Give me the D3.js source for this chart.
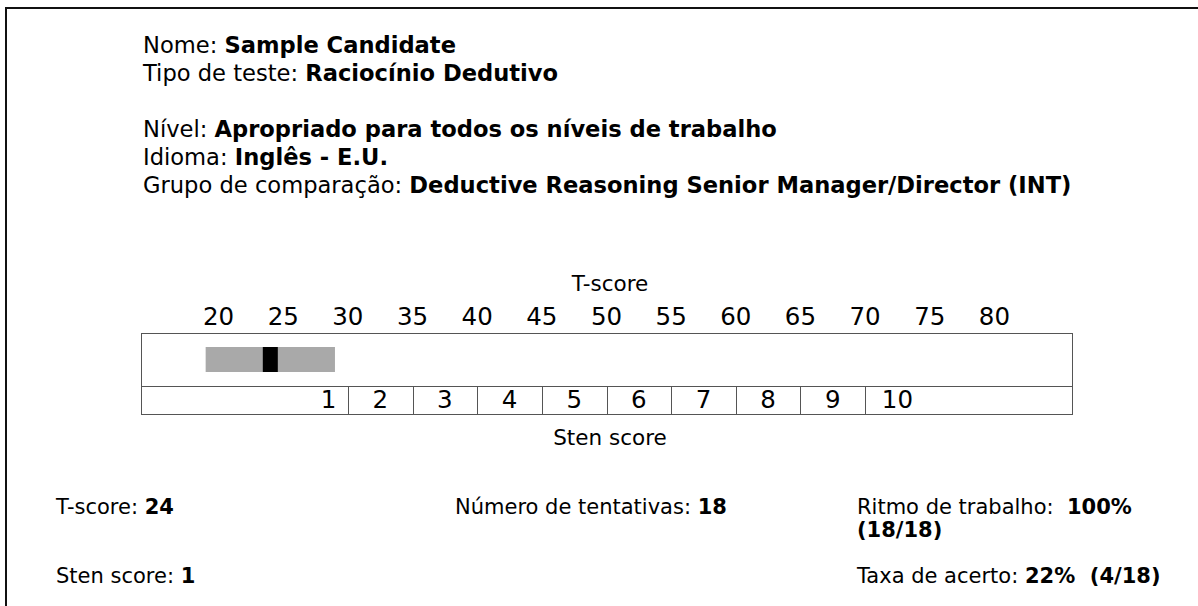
<!DOCTYPE html>
<html>
<head>
<meta charset="utf-8">
<script src="https://cdn.jsdelivr.net/npm/d3@7"></script>
<style>
  html, body { margin: 0; padding: 0; background: #fff; }
  svg { display: block; font-family: "DejaVu Sans", Verdana, sans-serif; }
</style>
</head>
<body>
<svg id="chart" width="1198" height="606"></svg>
<script>
// ---------- data ----------
const headerLabels = ["Nome: ", "Tipo de teste: ", "Nível: ", "Idioma: ", "Grupo de comparação: "];
const headerValues = ["Sample Candidate", "Raciocínio Dedutivo", "Apropriado para todos os níveis de trabalho", "Inglês - E.U.", "Deductive Reasoning Senior Manager/Director (INT)"];
const tDomain = [14, 86];
const tTicks = [20, 25, 30, 35, 40, 45, 50, 55, 60, 65, 70, 75, 80];
const stenBounds = [30, 35, 40, 45, 50, 55, 60, 65, 70];
const stenLabels = [1, 2, 3, 4, 5, 6, 7, 8, 9, 10];
const stenLabelPos = [28.5, 32.5, 37.5, 42.5, 47.5, 52.5, 57.5, 62.5, 67.5, 72.5];
const tScore = 24;
const tBand = [19, 29];
const summaryLabels = ["T-score: ", "Número de tentativas: ", "Ritmo de trabalho:  ", "Sten score: ", "Taxa de acerto: "];
const summaryValues = ["24", "18", "100%", "1", "22%  (4/18)"];
const summaryExtra = "(18/18)";

// ---------- layout ----------
const svg = d3.select("#chart");
const x = d3.scaleLinear().domain(tDomain).range([141, 1072]);
const boxTop = 333, midY = 386, boxBottom = 414;

// page border (top and left)
svg.append("line").attr("x1", 5).attr("x2", 1198).attr("y1", 8).attr("y2", 8)
  .attr("stroke", "#111").attr("stroke-width", 2);
svg.append("line").attr("x1", 6).attr("x2", 6).attr("y1", 7).attr("y2", 606)
  .attr("stroke", "#111").attr("stroke-width", 2);

// header
const headerY = [53, 81, 137, 165, 193];
headerLabels.forEach((lab, i) => {
  const t = svg.append("text").attr("x", 143).attr("y", headerY[i])
    .attr("font-size", 22.6).attr("fill", "#000");
  t.append("tspan").text(lab);
  t.append("tspan").attr("font-weight", "bold").text(headerValues[i]);
});

// axis title
svg.append("text").attr("x", 610).attr("y", 291).attr("text-anchor", "middle")
  .attr("font-size", 21.5).text("T-score");

// T-score ticks
svg.append("g").selectAll("text").data(tTicks).join("text")
  .attr("x", d => x(d)).attr("y", 325).attr("text-anchor", "middle")
  .attr("font-size", 24.5).text(d => d);

// box
svg.append("rect").attr("x", x(tDomain[0]) + 0.5).attr("y", boxTop + 0.5)
  .attr("width", x(tDomain[1]) - x(tDomain[0])).attr("height", boxBottom - boxTop)
  .attr("fill", "none").attr("stroke", "#555").attr("stroke-width", 1);
svg.append("line").attr("x1", x(tDomain[0])).attr("x2", x(tDomain[1]))
  .attr("y1", midY + 0.5).attr("y2", midY + 0.5).attr("stroke", "#555");

// confidence band and score marker
svg.append("rect").attr("x", x(tBand[0])).attr("y", 347)
  .attr("width", x(tBand[1]) - x(tBand[0])).attr("height", 25).attr("fill", "#a9a9a9");
svg.append("rect").attr("x", x(tScore) - 7.5).attr("y", 347)
  .attr("width", 15).attr("height", 25).attr("fill", "#000");

// sten dividers
svg.append("g").selectAll("line").data(stenBounds).join("line")
  .attr("x1", d => Math.round(x(d)) + 0.5).attr("x2", d => Math.round(x(d)) + 0.5)
  .attr("y1", midY).attr("y2", boxBottom).attr("stroke", "#555");

// sten labels
svg.append("g").selectAll("text").data(stenLabels).join("text")
  .attr("x", (d, i) => x(stenLabelPos[i])).attr("y", 408).attr("text-anchor", "middle")
  .attr("font-size", 24.5).text(d => d);

svg.append("text").attr("x", 610).attr("y", 445).attr("text-anchor", "middle")
  .attr("font-size", 21.5).text("Sten score");

// summary
const summaryPos = [[56, 514], [455, 514], [857, 514], [56, 583], [857, 583]];
summaryLabels.forEach((lab, i) => {
  const t = svg.append("text").attr("x", summaryPos[i][0]).attr("y", summaryPos[i][1])
    .attr("font-size", 21).attr("xml:space", "preserve");
  t.append("tspan").text(lab);
  t.append("tspan").attr("font-weight", "bold").text(summaryValues[i]);
});
svg.append("text").attr("x", 857).attr("y", 537).attr("font-size", 21)
  .attr("font-weight", "bold").text(summaryExtra);
</script>
</body>
</html>
